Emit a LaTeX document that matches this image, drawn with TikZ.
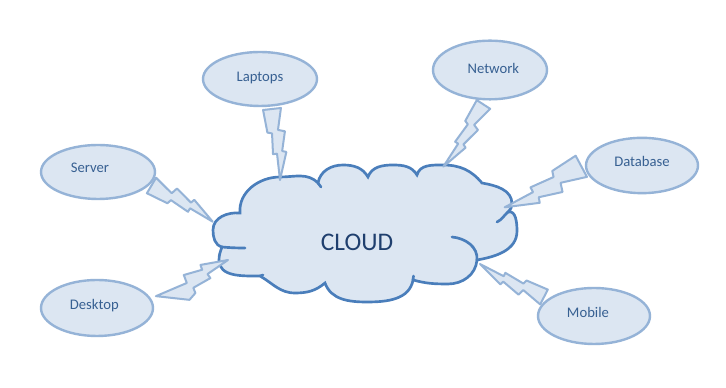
\documentclass[tikz,border=0pt]{standalone}
\usepackage{fontspec}
\setmainfont{Carlito}
\usetikzlibrary{calc,shapes.geometric}
\definecolor{cfill}{HTML}{DCE6F2}
\definecolor{cline}{HTML}{4A7EBB}
\definecolor{eline}{HTML}{95B3D7}
\definecolor{etext}{HTML}{376092}
\definecolor{ctext}{HTML}{1F3F6E}
\tikzset{
  bw/.store in=\boltw, bw=6.75pt,
  bsa/.store in=\boltsa, bsa=0,
  bsb/.store in=\boltsb, bsb=0,
  bolt/.style={to path={
    -- ($(\tikztostart)!\boltsb!(\tikztotarget)!\boltw!90:(\tikztotarget)$)
    -- ($(\tikztostart)!0.30!(\tikztotarget)!0.4*\boltw!90:(\tikztotarget)$)
    -- ($(\tikztostart)!0.33!(\tikztotarget)!1.15*\boltw!90:(\tikztotarget)$)
    -- ($(\tikztostart)!0.60!(\tikztotarget)!0.6*\boltw!90:(\tikztotarget)$)
    -- ($(\tikztostart)!0.62!(\tikztotarget)!1.05*\boltw!90:(\tikztotarget)$)
    -- (\tikztotarget)
    -- ($(\tikztostart)!0.63!(\tikztotarget)$)
    -- ($(\tikztostart)!0.63!(\tikztotarget)!-0.45*\boltw!90:(\tikztotarget)$)
    -- ($(\tikztostart)!0.34!(\tikztotarget)!-0.3*\boltw!90:(\tikztotarget)$)
    -- ($(\tikztostart)!0.32!(\tikztotarget)!-0.8*\boltw!90:(\tikztotarget)$)
    -- ($(\tikztostart)!\boltsa!(\tikztotarget)!-\boltw!90:(\tikztotarget)$)
    -- cycle}},
  boltline/.style={draw=eline, fill=cfill, line width=1.5pt, line join=round},
  cloudline/.style={draw=cline, line width=2pt, line cap=round},
  ell/.style={ellipse, draw=eline, fill=cfill, line width=1.8pt, inner sep=0pt,
    text=etext, font=\fontsize{11}{13}\selectfont},
}
\begin{document}
\begin{tikzpicture}[x=0.75pt, y=0.75pt]
\useasboundingbox (0,0) rectangle (726,388);
\fill[white] (0,0) rectangle (726,388);

% cloud
\draw[cloudline, fill=cfill] (240,175)
 to[out=95,in=180] (280,211)
 to[out=0,in=135] (318,205)
 to[out=80,in=180] (343,223)
 to[out=0,in=120] (368,211)
 to[out=70,in=180] (393,223)
 to[out=0,in=120] (417,213)
 to[out=75,in=180] (443,223)
 to[out=0,in=130] (482,205)
 to[out=-10,in=90] (512,184)
 to[out=-90,in=45] (508,176)
 to[out=15,in=90] (517,157)
 to[out=-90,in=10] (477,128)
 to[out=-95,in=0] (448,104)
 to[out=180,in=-15] (413,108)
 to[out=-100,in=0] (367,86)
 to[out=180,in=-70] (325,105)
 to[out=-140,in=0] (295,95)
 to[out=180,in=-30] (260,112)
 to[out=180,in=-90] (219,128)
 to[out=90,in=-110] (222,141)
 to[out=165,in=-90] (213,158)
 to[out=90,in=175] (240,175) -- cycle;
\draw[cloudline] (222,141) to[out=-5,in=180] (245,140);
\draw[cloudline] (452,151) to[out=-5,in=85] (477,128);
\draw[cloudline] (508,176) to[out=-140,in=25] (497,166);
\draw[cloudline] (318,205) to[out=-45,in=125] (321,201);
\draw[cloudline] (413,108) -- (413.5,112);
\draw[cloudline] (260,112) to[out=0,in=200] (263,113);

\node[text=ctext, font=\fontsize{19}{21}\selectfont] (cloud) at (357,146) {CLOUD};

% bolt end points
\coordinate (lapS) at (272,279);    \coordinate (lapT) at (280,208);
\coordinate (netS) at (483.5,283.5); \coordinate (netT) at (443.3,221.3);
\coordinate (srvS) at (151.5,202.5); \coordinate (srvT) at (212.7,166.3);
\coordinate (dbS) at (581.3,221.7);  \coordinate (dbT) at (504.7,180.7);
\coordinate (deskS) at (172.7,90);   \coordinate (deskT) at (228,128);
\coordinate (mobS) at (544,91);      \coordinate (mobT) at (480,124);

\draw[boltline, bw=6.75pt] (lapS) to[bolt] (lapT);
\draw[boltline, bw=6pt] (netS) to[bolt] (netT);
\draw[boltline, bw=6.75pt] (srvS) to[bolt] (srvT);
\draw[boltline, bw=9pt] (dbS) to[bolt] (dbT);
\draw[boltline, bw=8.25pt, bsa=0.19, bsb=-0.19] (deskS) to[bolt] (deskT);
\draw[boltline, bw=6.25pt] (mobS) to[bolt] (mobT);

% ellipses
\node[ell, minimum width=85.5pt, minimum height=40.5pt] (lap) at (260,309) {\raisebox{3.5pt}{Laptops}};
\node[ell, minimum width=85.5pt, minimum height=44pt] (net) at (490,318) {\kern5pt\raisebox{3pt}{Network}};
\node[ell, minimum width=85.5pt, minimum height=40.5pt] (srv) at (98,216) {\raisebox{6.5pt}{Server}\kern12pt};
\node[ell, minimum width=84pt, minimum height=41.5pt] (db) at (642,222.5) {\raisebox{5.5pt}{Database}};
\node[ell, minimum width=84pt, minimum height=42pt] (desk) at (97,80) {\raisebox{5.5pt}{Desktop}\kern4pt};
\node[ell, minimum width=84pt, minimum height=42pt] (mob) at (594,72) {\raisebox{6pt}{Mobile}\kern9pt};
\end{tikzpicture}
\end{document}
